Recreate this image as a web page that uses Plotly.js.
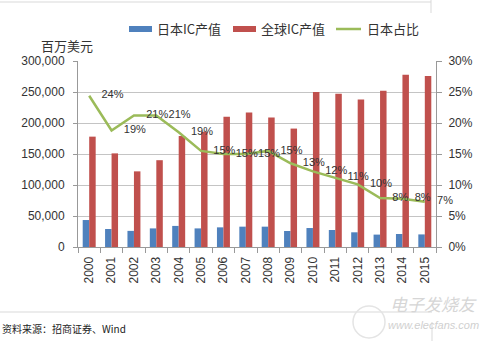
<!DOCTYPE html>
<html>
<head>
<meta charset="utf-8">
<script src="https://cdn.plot.ly/plotly-3.0.1.min.js"></script>
<style>html,body{margin:0;padding:0;background:#fff;}#chart{width:500px;height:341px;}</style>
</head>
<body>
<div id="chart"></div>
<script>
// ---- data ----
var years = ['2000','2001','2002','2003','2004','2005','2006','2007','2008','2009','2010','2011','2012','2013','2014','2015'];
var japanIC = [43500, 29000, 26000, 30000, 34000, 30000, 31700, 32800, 32800, 25800, 30600, 27400, 23700, 20000, 21000, 20300];
var globalIC = [178000, 151000, 122000, 140000, 179000, 186000, 210000, 217000, 209000, 191000, 250000, 247000, 238000, 252000, 278000, 276000];
var japanShare = [0.244, 0.188, 0.212, 0.212, 0.185, 0.155, 0.150, 0.150, 0.155, 0.135, 0.122, 0.112, 0.101, 0.079, 0.078, 0.073];
var shareLabels = ['24%','19%','21%','21%','19%','15%','15%','15%','15%','13%','12%','11%','10%','8%','8%','7%'];
var seriesNames = ['日本IC产值','全球IC产值','日本占比'];

var BLUE = '#4F81BD', RED = '#C0504D', GREEN = '#9BBB59';
var FONT = 'Liberation Sans, Arial, sans-serif';
var CJK = 'Noto Sans CJK SC, sans-serif';

// pixel -> paper helpers (plot area 78..436 x, 61..247 y)
var L = 78, R = 436, T = 61, B = 247;
function px(x){ return (x - L) / (R - L); }
function py(y){ return (B - y) / (B - T); }

var traces = [
  {type:'bar', name:seriesNames[0], x:years, y:japanIC, marker:{color:BLUE}, showlegend:false, hoverinfo:'x+y'},
  {type:'bar', name:seriesNames[1], x:years, y:globalIC, marker:{color:RED}, showlegend:false, hoverinfo:'x+y'},
  {type:'scatter', name:seriesNames[2], x:years, y:japanShare, yaxis:'y2',
   mode:'lines+markers+text', line:{color:GREEN, width:2.5},
   marker:{size:18, opacity:0, color:GREEN},
   text:shareLabels, textposition:'middle right',
   textfont:{family:FONT, size:11, color:'#333'}, cliponaxis:false, showlegend:false}
];

var shapes = [
  // legend swatches
  {type:'rect', xref:'paper', yref:'paper', x0:px(129), x1:px(152), y0:py(32), y1:py(26), fillcolor:BLUE, line:{width:0}},
  {type:'rect', xref:'paper', yref:'paper', x0:px(233), x1:px(256), y0:py(32), y1:py(26), fillcolor:RED, line:{width:0}},
  {type:'line', xref:'paper', yref:'paper', x0:px(336), x1:px(361), y0:py(29), y1:py(29), line:{color:GREEN, width:2.5}},
  // frame lines
  {type:'line', xref:'paper', yref:'paper', x0:px(0), x1:px(431), y0:py(2), y1:py(2), line:{color:'#d9d9d9', width:1}},
  {type:'line', xref:'paper', yref:'paper', x0:px(431), x1:px(431), y0:py(0), y1:py(13), line:{color:'#d9d9d9', width:1}},
  {type:'line', xref:'paper', yref:'paper', x0:px(0), x1:px(432), y0:py(312), y1:py(312), line:{color:'#d9d9d9', width:1}},
  {type:'line', xref:'paper', yref:'paper', x0:px(432), x1:px(432), y0:py(322), y1:py(341), line:{color:'#d9d9d9', width:1}},
  // watermark logo circle
  {type:'circle', xref:'paper', yref:'paper', x0:px(353), x1:px(385), y0:py(338), y1:py(306), line:{color:'#e4e4e4', width:1.5}}
];

var annotations = [
  {text:seriesNames[0], xref:'paper', yref:'paper', x:px(155), y:py(29), xanchor:'left', yanchor:'middle', showarrow:false, font:{family:CJK, size:13, color:'#333'}},
  {text:seriesNames[1], xref:'paper', yref:'paper', x:px(259), y:py(29), xanchor:'left', yanchor:'middle', showarrow:false, font:{family:CJK, size:13, color:'#333'}},
  {text:seriesNames[2], xref:'paper', yref:'paper', x:px(365), y:py(29), xanchor:'left', yanchor:'middle', showarrow:false, font:{family:CJK, size:13, color:'#333'}},
  {text:'百万美元', xref:'paper', yref:'paper', x:px(39), y:py(45), xanchor:'left', yanchor:'middle', showarrow:false, font:{family:CJK, size:13, color:'#333'}},
  {text:'资料来源：招商证券、Wind', xref:'paper', yref:'paper', x:px(0), y:py(328), xanchor:'left', yanchor:'middle', showarrow:false, font:{family:CJK, size:10, color:'#222'}},
  {text:'<i>电子发烧友</i>', xref:'paper', yref:'paper', x:px(388), y:py(303), xanchor:'left', yanchor:'middle', showarrow:false, font:{family:CJK, size:17, color:'#d6d6d6'}},
  {text:'<i>www.elecfans.com</i>', xref:'paper', yref:'paper', x:px(386), y:py(325), xanchor:'left', yanchor:'middle', showarrow:false, font:{family:FONT, size:11, color:'#d0d0d0'}}
];

var layout = {
  width:500, height:341,
  margin:{l:L, r:500-R, t:T, b:341-B, pad:0},
  paper_bgcolor:'#fff', plot_bgcolor:'#fff',
  barmode:'group', bargap:0.42, bargroupgap:0,
  showlegend:false,
  font:{family:FONT, size:12, color:'#333'},
  xaxis:{type:'category', range:[-0.5, years.length - 0.5], autorange:false, automargin:false,
         tickangle:-90, ticks:'outside', tickson:'boundaries', ticklen:5, tickcolor:'#999',
         showline:true, linecolor:'#999', linewidth:1, showgrid:false, tickfont:{family:FONT, size:12, color:'#333'},
         ticklabelstandoff:4},
  yaxis:{range:[0,300000], dtick:50000, tickformat:',d', showgrid:true, gridcolor:'#c4c4c4', gridwidth:1, automargin:false,
         showline:true, linecolor:'#999', ticks:'outside', ticklen:4, tickcolor:'#999', zeroline:false,
         tickfont:{family:FONT, size:12, color:'#333'}, ticklabelstandoff:6},
  yaxis2:{range:[0,0.3], dtick:0.05, tickformat:'.0%', overlaying:'y', side:'right', showgrid:false, automargin:false,
          showline:true, linecolor:'#999', ticks:'outside', ticklen:5, tickcolor:'#999', zeroline:false,
          tickfont:{family:FONT, size:12, color:'#333'}, ticklabelstandoff:4},
  shapes:shapes,
  annotations:annotations
};

Plotly.newPlot('chart', traces, layout, {displayModeBar:false, staticPlot:true});
</script>
</body>
</html>
